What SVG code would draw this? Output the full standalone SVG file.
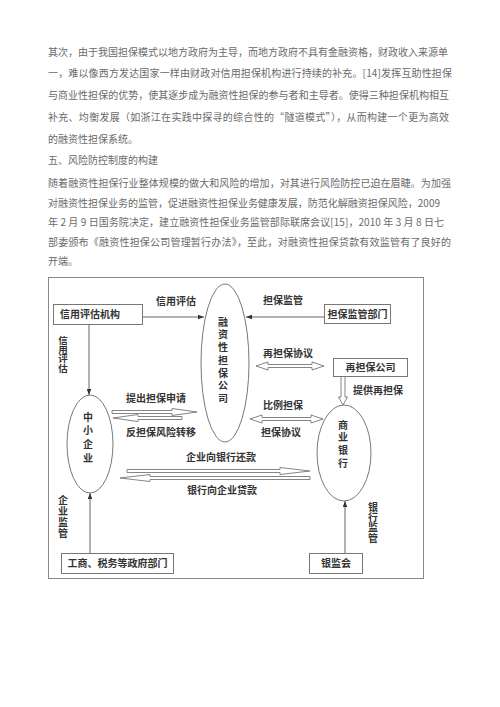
<svg xmlns="http://www.w3.org/2000/svg" width="500" height="707" viewBox="0 0 500 707">
<defs>
<style>
.body{font-family:"Noto Sans CJK SC","Liberation Serif",serif;font-size:10px;fill:#6a6a6a}
.lbl{font-family:"Noto Sans CJK SC","Liberation Sans",sans-serif;font-size:10px;fill:#333;font-weight:bold}
.vt{writing-mode:vertical-rl;text-orientation:upright}
.nd{fill:#fff;stroke:#777;stroke-width:1}
.ln{fill:none;stroke:#666;stroke-width:1}
.ha{fill:#fff;stroke:#777;stroke-width:0.9}
</style>
<marker id="ah" viewBox="0 0 8 8" refX="8" refY="4" markerWidth="6" markerHeight="6" orient="auto" markerUnits="userSpaceOnUse">
<path d="M0,1 L8,4 L0,7 Z" fill="#333"/>
</marker>
</defs>
<rect width="500" height="707" fill="#fff"/>
<g id="text">
<text class="body" x="48" y="55.5" textLength="400" lengthAdjust="spacing">其次，由于我国担保模式以地方政府为主导，而地方政府不具有金融资格，财政收入来源单</text>
<text class="body" x="48" y="77" textLength="404" lengthAdjust="spacing">一，难以像西方发达国家一样由财政对信用担保机构进行持续的补充。[14]发挥互助性担保</text>
<text class="body" x="48" y="99" textLength="401" lengthAdjust="spacing">与商业性担保的优势，使其逐步成为融资性担保的参与者和主导者。使得三种担保机构相互</text>
<text class="body" x="48" y="121" textLength="401" lengthAdjust="spacing">补充、均衡发展（如浙江在实践中探寻的综合性的“隧道模式”），从而构建一个更为高效</text>
<text class="body" x="48" y="142.5" textLength="90" lengthAdjust="spacing">的融资性担保系统。</text>
<text class="body" x="48" y="164" textLength="110" lengthAdjust="spacing">五、风险防控制度的构建</text>
<text class="body" x="48" y="187" textLength="403" lengthAdjust="spacing">随着融资性担保行业整体规模的做大和风险的增加，对其进行风险防控已迫在眉睫。为加强</text>
<text class="body" x="48" y="206.5" textLength="392" lengthAdjust="spacing">对融资性担保业务的监管，促进融资性担保业务健康发展，防范化解融资担保风险，2009</text>
<text class="body" x="48" y="226" textLength="396" lengthAdjust="spacing">年 2 月 9 日国务院决定，建立融资性担保业务监管部际联席会议[15]，2010 年 3 月 8 日七</text>
<text class="body" x="48" y="245.5" textLength="403" lengthAdjust="spacing">部委颁布《融资性担保公司管理暂行办法》，至此，对融资性担保贷款有效监管有了良好的</text>
<text class="body" x="48" y="265" textLength="30" lengthAdjust="spacing">开端。</text>
</g>
<rect x="48.5" y="277.5" width="375" height="301" fill="none" stroke="#888" stroke-width="1"/>
<g id="connectors">
<line class="ln" x1="142" y1="317" x2="204" y2="317" marker-end="url(#ah)"/>
<line class="ln" x1="324" y1="317" x2="246" y2="317" marker-end="url(#ah)"/>
<line class="ln" x1="89" y1="324" x2="89" y2="395" marker-end="url(#ah)"/>
<line class="ln" x1="90" y1="553" x2="90" y2="493" marker-end="url(#ah)"/>
<line class="ln" x1="345" y1="553" x2="345" y2="501" marker-end="url(#ah)"/>
<polygon class="ha" points="112,410.5 172,410.5 172,408.5 197,412 172,415.5 172,413.5 112,413.5"/>
<polygon class="ha" points="113,418 138,414.5 138,416.5 182,416.5 182,419.5 138,419.5 138,421.5"/>
<polygon class="ha" points="127,469.5 280,469.5 280,467.5 310,471 280,474.5 280,472.5 127,472.5"/>
<polygon class="ha" points="120,478 150,474.5 150,476.5 310,476.5 310,479.5 150,479.5 150,481.5"/>
<polygon class="ha" points="256,366 268,362 268,364.5 312,364.5 312,362 324,366 312,370 312,367.5 268,367.5 268,370"/>
<polygon class="ha" points="250,419 262,415 262,417.5 311,417.5 311,415 323,419 311,423 311,420.5 262,420.5 262,423"/>
<polygon class="ha" points="341,376 345,376 345,397 347.5,397 343,405 338.5,397 341,397"/>
</g>
<g id="labels">
<text class="lbl" x="176" y="305" text-anchor="middle">信用评估</text>
<text class="lbl" x="283" y="304" text-anchor="middle">担保监管</text>
<text class="lbl" x="288" y="357" text-anchor="middle">再担保协议</text>
<text class="lbl" x="378" y="394" text-anchor="middle">提供再担保</text>
<text class="lbl" x="156" y="402" text-anchor="middle">提出担保申请</text>
<text class="lbl" x="161" y="436" text-anchor="middle">反担保风险转移</text>
<text class="lbl" x="283" y="409" text-anchor="middle">比例担保</text>
<text class="lbl" x="281" y="436" text-anchor="middle">担保协议</text>
<text class="lbl" x="221" y="461" text-anchor="middle">企业向银行还款</text>
<text class="lbl" x="222" y="494" text-anchor="middle">银行向企业贷款</text>
<text class="lbl vt" x="63" y="335.5" style="font-size:9.5px;letter-spacing:-0.2px">信用评估</text>
<text class="lbl vt" x="63" y="495" style="letter-spacing:1px">企业监管</text>
<text class="lbl vt" x="373" y="502" style="letter-spacing:0.3px">银行监管</text>
</g>
<g id="n-xypg">
<rect class="nd" x="53.5" y="304.5" width="89" height="20"/>
<text class="lbl" x="60" y="318">信用评估机构</text>
</g>
<g id="n-dbjg">
<rect class="nd" x="324.5" y="304.5" width="66" height="19"/>
<text class="lbl" x="357.5" y="317.5" text-anchor="middle">担保监管部门</text>
</g>
<g id="n-zdb">
<rect class="nd" x="333.5" y="358.5" width="74" height="18"/>
<text class="lbl" x="370.5" y="371" text-anchor="middle">再担保公司</text>
</g>
<g id="n-gs">
<rect class="nd" x="61.5" y="553.5" width="112" height="20"/>
<text class="lbl" x="117.5" y="567" text-anchor="middle">工商、税务等政府部门</text>
</g>
<g id="n-yjh">
<rect class="nd" x="309.5" y="553.5" width="53" height="20"/>
<text class="lbl" x="336" y="567" text-anchor="middle">银监会</text>
</g>
<g id="n-rzdb">
<ellipse class="nd" cx="225" cy="363" rx="24" ry="79"/>
<text class="lbl vt" x="223" y="317" style="letter-spacing:2.7px">融资性担保公司</text>
</g>
<g id="n-zxqy">
<ellipse class="nd" cx="90" cy="444" rx="23" ry="49"/>
<text class="lbl vt" x="88" y="412" style="letter-spacing:3.7px">中小企业</text>
</g>
<g id="n-syyh">
<ellipse class="nd" cx="344" cy="453" rx="27" ry="48"/>
<text class="lbl vt" x="343" y="420" style="letter-spacing:2.7px">商业银行</text>
</g>
</svg>
